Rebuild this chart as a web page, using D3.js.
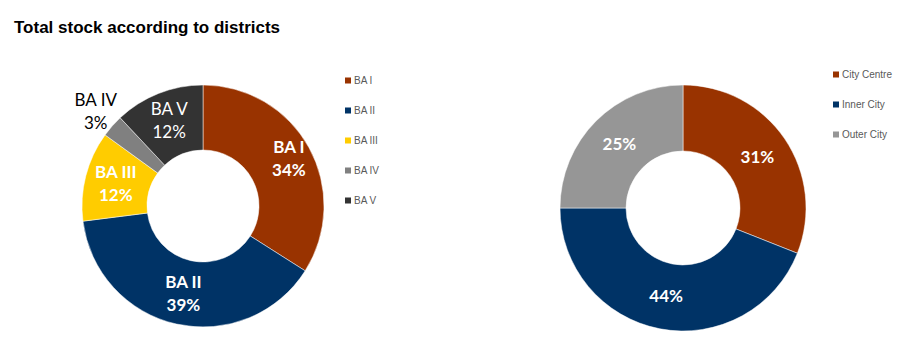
<!DOCTYPE html>
<html>
<head>
<meta charset="utf-8">
<script src="https://cdn.jsdelivr.net/npm/d3@7"></script>
<style>
  body { margin: 0; background: #fff; }
</style>
</head>
<body>
<div id="chart-area"></div>
<script>
// Data
// ****
const districts = ["BA I", "BA II", "BA III", "BA IV", "BA V"]
const districtShares = [34, 39, 12, 3, 12]
const zones = ["City Centre", "Inner City", "Outer City"]
const zoneShares = [31, 44, 25]

const districtColors = ["#993300", "#003366", "#ffcc00", "#808080", "#333333"]
const zoneColors = ["#993300", "#003366", "#969696"]

// Config
// ******
const width = 910, height = 354

const svg = d3.select("#chart-area")
	.append("svg")
		.attr("width", width)
		.attr("height", height)

svg.append("text")
	.attr("x", 14)
	.attr("y", 33)
	.attr("font-family", "Arial, 'Liberation Sans', sans-serif")
	.attr("font-weight", "bold")
	.attr("font-size", "17px")
	.attr("fill", "#000")
	.text("Total stock according to districts")

const labelFont = "Lato, 'Open Sans', sans-serif"

// Donut
// *****
function donut(cx, cy, outer, inner, names, values, colors, labelStyle) {
	const g = svg.append("g").attr("transform", "translate(" + cx + ", " + cy + ")")
	const pie = d3.pie().sort(null).value(d => d.v)
	const rows = names.map((n, i) => ({name: n, v: values[i], color: colors[i], i: i}))
	const arcs = pie(rows)
	const arc = d3.arc().innerRadius(inner).outerRadius(outer)

	g.selectAll("path").data(arcs).enter().append("path")
		.attr("d", arc)
		.attr("fill", d => d.data.color)
		.attr("stroke", "#fff")
		.attr("stroke-width", 0.5)

	arcs.forEach(d => {
		const st = labelStyle(d)
		const a = (d.startAngle + d.endAngle) / 2
		const lx = Math.sin(a) * st.r, ly = -Math.cos(a) * st.r
		const t = g.append("text")
			.attr("text-anchor", "middle")
			.attr("font-family", labelFont)
			.attr("font-size", "17px")
			.attr("font-weight", st.bold ? "bold" : "normal")
			.attr("fill", st.fill)
		const lines = st.name ? [d.data.name, d.data.v + "%"] : [d.data.v + "%"]
		lines.forEach((s, k) => {
			t.append("tspan")
				.attr("x", lx)
				.attr("y", ly + 6 + (k - (lines.length - 1) / 2) * 23)
				.text(s)
		})
	})
}

function legend(x, y, names, colors, step) {
	const g = svg.append("g").attr("transform", "translate(" + x + ", " + y + ")")
	names.forEach((n, i) => {
		g.append("rect")
			.attr("x", 0).attr("y", i * step - 3.5)
			.attr("width", 6).attr("height", 6)
			.attr("fill", colors[i])
		g.append("text")
			.attr("x", 9).attr("y", i * step + 3)
			.attr("font-family", "Arial, 'Liberation Sans', sans-serif")
			.attr("font-size", "10px")
			.attr("fill", "#595959")
			.text(n)
	})
}

donut(203, 206, 121, 56, districts, districtShares, districtColors, d => {
	if (d.data.name === "BA IV") return {r: 143, fill: "#000", bold: false, name: true}
	if (d.data.name === "BA V") return {r: 92, fill: "#fff", bold: false, name: true}
	if (d.data.name === "BA I") return {r: 98, fill: "#fff", bold: true, name: true}
	return {r: 90, fill: "#fff", bold: true, name: true}
})
legend(345, 81, districts, districtColors, 30)

donut(683, 208, 123, 57, zones, zoneShares, zoneColors, d => ({r: 90, fill: "#fff", bold: true, name: false}))
legend(833, 75, zones, zoneColors, 30)
</script>
</body>
</html>
